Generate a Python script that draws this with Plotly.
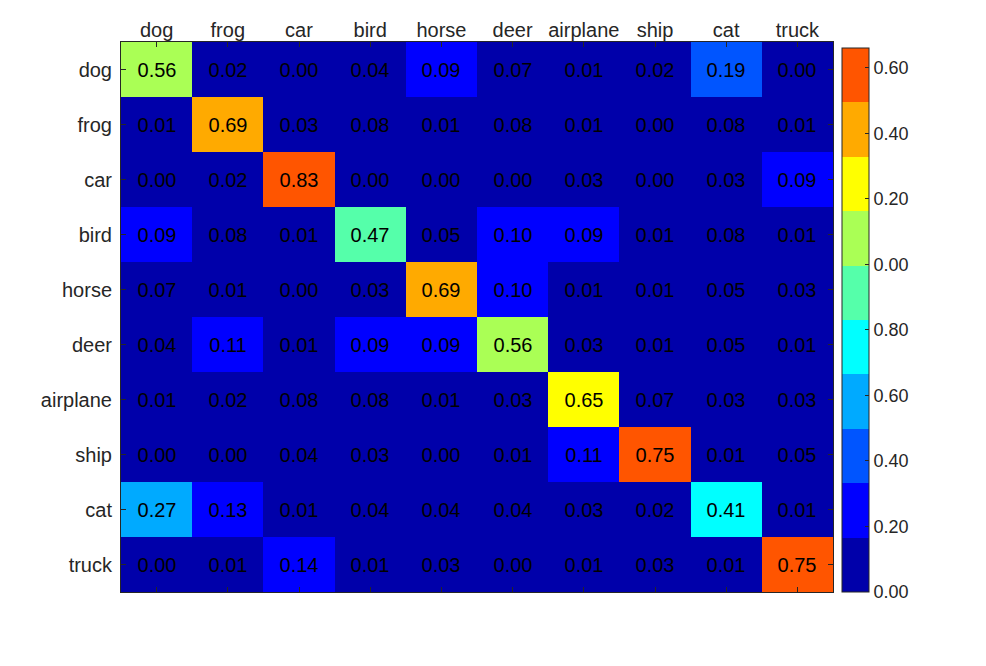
import plotly.graph_objects as go

classes = ['dog', 'frog', 'car', 'bird', 'horse', 'deer', 'airplane', 'ship', 'cat', 'truck']

dog = [0.56, 0.02, 0.00, 0.04, 0.09, 0.07, 0.01, 0.02, 0.19, 0.00]
frog = [0.01, 0.69, 0.03, 0.08, 0.01, 0.08, 0.01, 0.00, 0.08, 0.01]
car = [0.00, 0.02, 0.83, 0.00, 0.00, 0.00, 0.03, 0.00, 0.03, 0.09]
bird = [0.09, 0.08, 0.01, 0.47, 0.05, 0.10, 0.09, 0.01, 0.08, 0.01]
horse = [0.07, 0.01, 0.00, 0.03, 0.69, 0.10, 0.01, 0.01, 0.05, 0.03]
deer = [0.04, 0.11, 0.01, 0.09, 0.09, 0.56, 0.03, 0.01, 0.05, 0.01]
airplane = [0.01, 0.02, 0.08, 0.08, 0.01, 0.03, 0.65, 0.07, 0.03, 0.03]
ship = [0.00, 0.00, 0.04, 0.03, 0.00, 0.01, 0.11, 0.75, 0.01, 0.05]
cat = [0.27, 0.13, 0.01, 0.04, 0.04, 0.04, 0.03, 0.02, 0.41, 0.01]
truck = [0.00, 0.01, 0.14, 0.01, 0.03, 0.00, 0.01, 0.03, 0.01, 0.75]

cbar_tickvals = [0.0, 0.1, 0.2, 0.3, 0.4, 0.5, 0.6, 0.7, 0.8]
cbar_ticktext = ['0.00', '0.20', '0.40', '0.60', '0.80', '0.00', '0.20', '0.40', '0.60']

z = [dog, frog, car, bird, horse, deer, airplane, ship, cat, truck]
text = [['%.2f' % v for v in row] for row in z]

# jet(10), stepped
jet10 = ['#0000aa', '#0000ff', '#0055ff', '#00aaff', '#00ffff',
         '#55ffaa', '#aaff55', '#ffff00', '#ffaa00', '#ff5500']
colorscale = []
for i, c in enumerate(jet10):
    colorscale.append([i / 10, c])
    colorscale.append([(i + 1) / 10, c])

# page has an 8px body margin, so everything is shifted by that
W, H = 970, 650
L, R, T, B = 113, 825, 34, 584
axcol = '#262626'
font = 'Liberation Sans, Arial, sans-serif'

fig = go.Figure()
fig.add_trace(go.Heatmap(
    z=z, x=classes, y=classes,
    zmin=0, zmax=0.83,
    colorscale=colorscale,
    text=text,
    texttemplate='%{text}',
    textfont=dict(family=font, size=20, color='black'),
    xgap=0, ygap=0,
    colorbar=dict(
        x=1 + 9 / (R - L), xanchor='left',
        y=0, yanchor='bottom',
        lenmode='pixels', len=544,
        thickness=27,
        outlinecolor=axcol, outlinewidth=1,
        tickvals=cbar_tickvals, ticktext=cbar_ticktext,
        ticks='inside', ticklen=4, tickcolor=axcol,
        tickfont=dict(family=font, size=18, color=axcol),
        xpad=0, ypad=0)))

fig.update_layout(
    width=W, height=H,
    margin=dict(l=L, r=W - R, t=T, b=H - B, autoexpand=False),
    paper_bgcolor='white',
    plot_bgcolor='white',
    font=dict(family=font, size=20, color=axcol))
fig.update_xaxes(side='top', showline=True, linecolor=axcol, linewidth=1, mirror='ticks',
                 ticks='inside', ticklen=5, tickcolor=axcol, showgrid=False, zeroline=False,
                 ticklabelstandoff=-4, tickfont=dict(size=20, color=axcol))
fig.update_yaxes(autorange='reversed', showline=True, linecolor=axcol, linewidth=1, mirror='ticks',
                 ticks='inside', ticklen=5, tickcolor=axcol, showgrid=False, zeroline=False,
                 ticklabelstandoff=4, tickfont=dict(size=20, color=axcol))

fig.write_html("out.html")
